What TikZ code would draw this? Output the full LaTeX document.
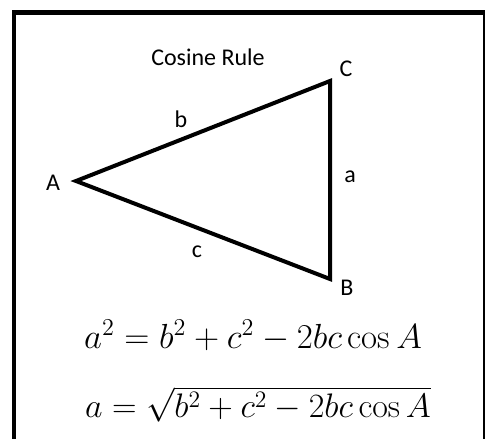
\documentclass[tikz,border=0pt]{standalone}
\usepackage[no-math]{fontspec}
\setmainfont{Carlito}
\newfontfamily\mathrmfam{Latin Modern Roman}
\newcommand{\mycos}{\mathop{\hbox{\mathrmfam cos}}\nolimits}
\begin{document}
\begin{tikzpicture}[x=1pt,y=-1pt,
  lbl/.style={anchor=base,inner sep=0pt,font=\fontsize{24}{28}\selectfont},
  eqn/.style={anchor=base,inner sep=0pt,font=\fontsize{20.74}{25}\selectfont},
  tri/.style={line width=4pt,line join=miter}]
\useasboundingbox (0,0) rectangle (485,439);
\begin{scope}
\clip (0,0) rectangle (485,439);
\draw[line width=4.5pt] (14,12.5) rectangle (485.5,445);
\end{scope}
\coordinate (A) at (76,181);
\coordinate (C) at (330,81);
\coordinate (B) at (330,279);
\draw[tri] (A) -- (C) -- (B) -- cycle;
\node[lbl] (title) at (208,65) {Cosine Rule};
\node[lbl] (lC) at (346,76) {C};
\node[lbl] (lB) at (347,295) {B};
\node[lbl] (lA) at (53,190) {A};
\node[lbl] (lb) at (181,127) {b};
\node[lbl] (la) at (350,182) {a};
\node[lbl] (lc) at (197,257) {c};
\node[eqn] (eq1) at (253,348) {\scalebox{1.68}{$a^2 = b^2 + c^2 - 2bc\mycos A$}};
\node[eqn] (eq2) at (258,417) {\scalebox{1.64}{$a = \sqrt{b^2 + c^2 - 2bc\mycos A}$}};
\end{tikzpicture}
\end{document}
